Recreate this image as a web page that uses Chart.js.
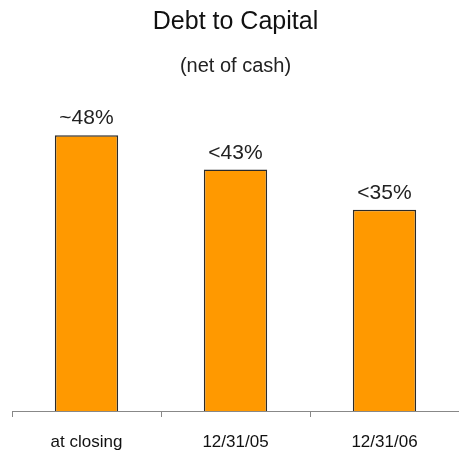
<!DOCTYPE html>
<html>
<head>
<meta charset="utf-8">
<script src="https://cdn.jsdelivr.net/npm/chart.js@4/dist/chart.umd.min.js"></script>
<style>
  html, body { margin: 0; padding: 0; background: #fff; }
  #wrap { width: 459px; height: 452px; }
</style>
</head>
<body>
<div id="wrap"><canvas id="debtChart"></canvas></div>
<script>
// chart data
const categories = ['at closing', '12/31/05', '12/31/06'];
const debtValues = [48, 42, 35];
const valueLabels = ['~48%', '<43%', '<35%'];

const FONT = "'Liberation Sans', Arial, sans-serif";

// write the value text over each bar
const barLabelPlugin = {
    id: 'barLabels',
    afterDatasetsDraw(chart) {
        const ctx = chart.ctx;
        const meta = chart.getDatasetMeta(0);
        ctx.save();
        ctx.font = '21px ' + FONT;
        ctx.fillStyle = '#222';
        ctx.textAlign = 'center';
        ctx.textBaseline = 'alphabetic';
        meta.data.forEach((bar, i) => {
            ctx.fillText(valueLabels[i], bar.x, bar.y - 11);
        });
        ctx.restore();
    }
};

new Chart(document.getElementById('debtChart').getContext('2d'), {
    type: 'bar',
    data: {
        labels: categories,
        datasets: [{
            data: debtValues,
            backgroundColor: '#FF9900',
            borderColor: '#2a2a2a',
            borderWidth: 1.5,
            barPercentage: 0.85,
            categoryPercentage: 0.5
        }]
    },
    options: {
        responsive: true,
        maintainAspectRatio: false,
        animation: false,
        layout: {
            padding: { left: 12, right: 0, top: 4, bottom: 0 }
        },
        plugins: {
            legend: { display: false },
            tooltip: { enabled: false },
            title: {
                display: true,
                text: 'Debt to Capital',
                color: '#111',
                font: { family: FONT, size: 25, weight: 'normal' },
                padding: { top: 3, bottom: 17 }
            },
            subtitle: {
                display: true,
                text: '(net of cash)',
                color: '#222',
                font: { family: FONT, size: 20, weight: 'normal' },
                padding: { top: 0, bottom: 10 }
            }
        },
        scales: {
            x: {
                offset: true,
                afterFit(scale) { scale.height = 41; },
                border: { display: true, color: '#888', width: 1 },
                grid: {
                    display: true,
                    offset: true,
                    drawOnChartArea: false,
                    drawTicks: true,
                    tickLength: 6,
                    color: '#888'
                },
                ticks: {
                    color: '#111',
                    padding: 15,
                    font: { family: FONT, size: 17 }
                }
            },
            y: {
                display: false,
                min: 0,
                max: 56.2
            }
        }
    },
    plugins: [barLabelPlugin]
});
</script>
</body>
</html>
